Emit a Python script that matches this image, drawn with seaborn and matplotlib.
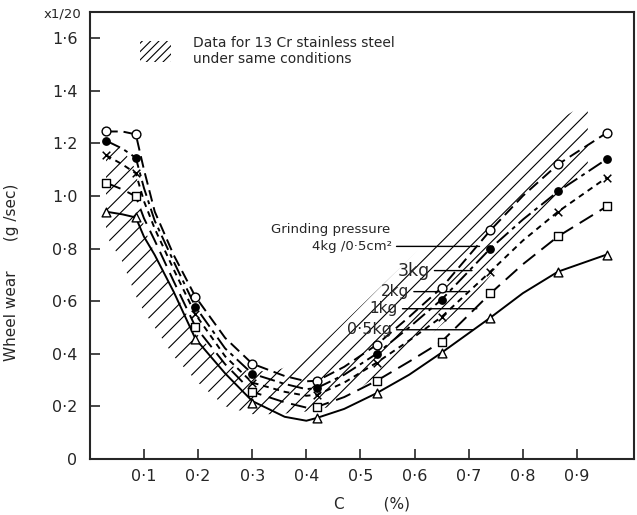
import pandas as pd
import seaborn as sns
from matplotlib import pyplot as plt
from matplotlib.patches import Patch

# === DATA
# measured points, carbon content C (%)
c_pts = [0.03, 0.085, 0.195, 0.30, 0.42, 0.53, 0.65, 0.74, 0.865, 0.955]
wear_4kg = [1.245, 1.234, 0.617, 0.362, 0.297, 0.434, 0.651, 0.869, 1.12, 1.24]
wear_3kg = [1.21, 1.145, 0.579, 0.324, 0.27, 0.40, 0.606, 0.80, 1.017, 1.14]
wear_2kg = [1.155, 1.086, 0.55, 0.29, 0.244, 0.366, 0.54, 0.712, 0.94, 1.07]
wear_1kg = [1.05, 0.998, 0.503, 0.255, 0.198, 0.297, 0.446, 0.629, 0.846, 0.96]
wear_05kg = [0.94, 0.918, 0.457, 0.213, 0.156, 0.25, 0.404, 0.537, 0.712, 0.777]

# hand-drawn fitted curves, read at more C values
c_curve = [0.03, 0.06, 0.085, 0.10, 0.12, 0.155, 0.195, 0.25, 0.30, 0.36, 0.40,
           0.42, 0.47, 0.53, 0.59, 0.65, 0.74, 0.80, 0.865, 0.955]
curve_4kg = [1.245, 1.245, 1.234, 1.10, 0.94, 0.775, 0.617, 0.46, 0.362, 0.315,
             0.295, 0.297, 0.35, 0.434, 0.54, 0.651, 0.869, 1.0, 1.12, 1.24]
curve_3kg = [1.21, 1.18, 1.145, 1.03, 0.905, 0.75, 0.579, 0.42, 0.324, 0.285,
             0.265, 0.27, 0.32, 0.40, 0.50, 0.606, 0.80, 0.91, 1.017, 1.14]
curve_2kg = [1.155, 1.12, 1.086, 0.98, 0.875, 0.72, 0.55, 0.39, 0.29, 0.255,
             0.24, 0.244, 0.29, 0.366, 0.45, 0.54, 0.712, 0.83, 0.94, 1.07]
curve_1kg = [1.05, 1.025, 0.998, 0.915, 0.83, 0.675, 0.503, 0.36, 0.255, 0.215,
             0.195, 0.198, 0.235, 0.297, 0.37, 0.446, 0.629, 0.74, 0.846, 0.96]
curve_05kg = [0.94, 0.93, 0.918, 0.845, 0.775, 0.635, 0.457, 0.325, 0.22, 0.16,
              0.145, 0.156, 0.19, 0.25, 0.32, 0.404, 0.537, 0.63, 0.712, 0.777]

# hatched band: 13Cr stainless steel
band_c = [0.03, 0.06, 0.085, 0.10, 0.12, 0.155, 0.20, 0.25, 0.30, 0.35, 0.40,
          0.45, 0.50, 0.60, 0.70, 0.80, 0.85, 0.90, 0.92]
band_lo = [0.85, 0.75, 0.62, 0.56, 0.50, 0.39, 0.29, 0.20, 0.17, 0.17, 0.18,
           0.20, 0.27, 0.42, 0.60, 0.84, 0.95, 1.05, 1.10]
band_hi = [1.20, 1.18, 1.10, 0.88, 0.78, 0.64, 0.47, 0.36, 0.33, 0.34, 0.38,
           0.48, 0.58, 0.78, 0.96, 1.19, 1.27, 1.33, 1.37]

x_ticks = [0.1, 0.2, 0.3, 0.4, 0.5, 0.6, 0.7, 0.8, 0.9]
x_labels = ['0·1', '0·2', '0·3', '0·4', '0·5', '0·6', '0·7', '0·8', '0·9']
y_ticks = [0, 0.2, 0.4, 0.6, 0.8, 1.0, 1.2, 1.4, 1.6]
y_labels = ['0', '0·2', '0·4', '0·6', '0·8', '1·0', '1·2', '1·4', '1·6']

# === PLOT
sns.set_style('ticks')
plt.rcParams['font.family'] = ['DejaVu Sans']
plt.rcParams['hatch.linewidth'] = 0.8

fig = plt.figure(figsize=(6.37, 5.15), dpi=100)
ax = fig.add_axes([0.141, 0.109, 0.854, 0.868])

# hatched band
ax.fill_between(band_c, band_lo, band_hi, facecolor='none',
                edgecolor='black', hatch='//', linewidth=0)

series = [
    (curve_4kg, wear_4kg, (0, (6, 3)), 'o', 'white'),
    (curve_3kg, wear_3kg, (0, (8, 2.5, 2, 2.5)), 'o', 'black'),
    (curve_2kg, wear_2kg, (0, (3, 2.5)), 'x', 'black'),
    (curve_1kg, wear_1kg, (0, (8, 4)), 's', 'white'),
    (curve_05kg, wear_05kg, '-', '^', 'white'),
]

for curve, pts, ls, mk, fc in series:
    sns.lineplot(x=c_curve, y=curve, color='black', linestyle=ls,
                 linewidth=1.4, errorbar=None, sort=False, ax=ax)
    if mk == 'x':
        sns.scatterplot(x=c_pts, y=pts, marker='x', color='black', s=30,
                        linewidth=1.1, zorder=5, ax=ax)
    else:
        size = 28 if fc == 'black' else 40
        sns.scatterplot(x=c_pts, y=pts, marker=mk, facecolor=fc,
                        edgecolor='black', s=size, linewidth=1.0,
                        zorder=5, ax=ax)

# Grinding pressure labels
ax.text(0.555, 0.872, 'Grinding pressure', ha='right', va='center', fontsize=9.5)
labels = [('4kg /0·5cm²', 0.558, 0.72, 0.808, 9.5),
          ('3kg', 0.628, 0.706, 0.716, 12.5),
          ('2kg', 0.59, 0.697, 0.636, 11),
          ('1kg', 0.569, 0.715, 0.571, 11),
          ('0·5kg', 0.558, 0.708, 0.491, 11.5)]
for txt, xt, xe, y, fs in labels:
    ax.annotate(txt, xy=(xe, y), xytext=(xt, y), ha='right', va='center',
                fontsize=fs,
                arrowprops=dict(arrowstyle='-', lw=1.0, color='black',
                                shrinkA=1, shrinkB=0))

# key for hatched band
handle = Patch(facecolor='none', edgecolor='black', hatch='////', linewidth=0)
ax.legend(handles=[handle],
          labels=['Data for 13 Cr stainless steel\nunder same conditions'],
          loc='upper left', bbox_to_anchor=(0.07, 0.975), frameon=False,
          handlelength=2.2, handleheight=2.0, handletextpad=1.6,
          fontsize=10, labelspacing=0)

# Improve figure
ax.set_xlim(0, 1.005)
ax.set_ylim(0, 1.7)
ax.set_xticks(x_ticks)
ax.set_xticklabels(x_labels)
ax.set_yticks(y_ticks)
ax.set_yticklabels(y_labels)
ax.tick_params(direction='in', length=7, width=1.2, labelsize=11.5)
ax.tick_params(axis='y', pad=9)
ax.tick_params(axis='x', pad=7)
for sp in ax.spines.values():
    sp.set_linewidth(1.5)

ax.set_xlabel('C        (%)', fontsize=11)
ax.xaxis.set_label_coords(0.518, -0.085)
ax.set_ylabel('Wheel wear      (g /sec)', fontsize=11)
ax.yaxis.set_label_coords(-0.13, 0.418)
ax.text(-0.05, 0.995, 'x1/20', transform=ax.transAxes, ha='center',
        va='center', fontsize=9.5)

plt.savefig('out.png')
